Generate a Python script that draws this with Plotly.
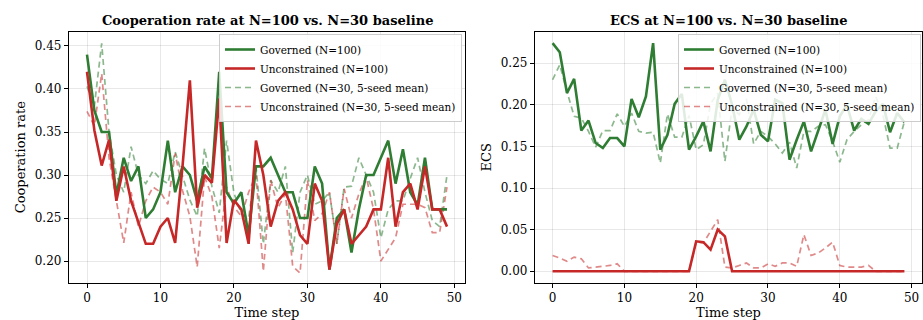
import plotly.graph_objects as go

# ---------------- data ----------------
steps = list(range(50))

coop_gov_100 = [0.44, 0.375, 0.35, 0.35, 0.277, 0.32, 0.293, 0.31, 0.25, 0.26,
                0.28, 0.34, 0.28, 0.31, 0.30, 0.27, 0.31, 0.296, 0.42, 0.28,
                0.267, 0.28, 0.23, 0.31, 0.31, 0.32, 0.30, 0.28, 0.28, 0.25,
                0.25, 0.31, 0.29, 0.19, 0.25, 0.26, 0.21, 0.26, 0.30, 0.30,
                0.32, 0.34, 0.29, 0.33, 0.28, 0.265, 0.32, 0.26, 0.26, 0.26]
coop_unc_100 = [0.42, 0.352, 0.311, 0.341, 0.27, 0.31, 0.27, 0.244, 0.22, 0.22,
                0.24, 0.25, 0.221, 0.31, 0.41, 0.262, 0.30, 0.291, 0.389, 0.221,
                0.271, 0.26, 0.22, 0.34, 0.30, 0.24, 0.27, 0.28, 0.26, 0.23,
                0.22, 0.29, 0.27, 0.19, 0.243, 0.26, 0.22, 0.23, 0.24, 0.26,
                0.26, 0.32, 0.24, 0.28, 0.29, 0.26, 0.31, 0.26, 0.26, 0.24]
coop_gov_30 = [0.403, 0.38, 0.453, 0.35, 0.30, 0.28, 0.333, 0.30, 0.29, 0.305,
               0.295, 0.29, 0.327, 0.298, 0.271, 0.252, 0.331, 0.287, 0.256, 0.34,
               0.279, 0.255, 0.25, 0.31, 0.22, 0.294, 0.28, 0.31, 0.21, 0.28,
               0.30, 0.266, 0.27, 0.28, 0.22, 0.286, 0.287, 0.32, 0.30, 0.28,
               0.227, 0.26, 0.27, 0.27, 0.296, 0.32, 0.28, 0.247, 0.24, 0.30]
coop_unc_30 = [0.374, 0.357, 0.418, 0.32, 0.27, 0.221, 0.28, 0.24, 0.27, 0.286,
               0.28, 0.266, 0.325, 0.282, 0.252, 0.193, 0.298, 0.275, 0.215, 0.286,
               0.263, 0.252, 0.28, 0.30, 0.188, 0.294, 0.262, 0.278, 0.194, 0.186,
               0.294, 0.247, 0.255, 0.28, 0.22, 0.284, 0.25, 0.278, 0.298, 0.26,
               0.20, 0.214, 0.227, 0.266, 0.266, 0.266, 0.262, 0.233, 0.233, 0.286]

ecs_gov_100 = [0.274, 0.263, 0.214, 0.231, 0.169, 0.181, 0.154, 0.148, 0.160, 0.160,
               0.150, 0.207, 0.185, 0.210, 0.274, 0.146, 0.164, 0.201, 0.213, 0.146,
               0.162, 0.180, 0.144, 0.206, 0.23, 0.20, 0.158, 0.174, 0.194, 0.164,
               0.156, 0.206, 0.202, 0.134, 0.158, 0.180, 0.144, 0.168, 0.194, 0.153,
               0.186, 0.200, 0.169, 0.183, 0.177, 0.192, 0.201, 0.167, 0.190, 0.179]
ecs_unc_100 = [0.0, 0.0, 0.0, 0.0, 0.0, 0.0, 0.0, 0.0, 0.0, 0.0,
               0.0, 0.0, 0.0, 0.0, 0.0, 0.0, 0.0, 0.0, 0.0, 0.0,
               0.036, 0.035, 0.026, 0.050, 0.042, 0.0, 0.0, 0.0, 0.0, 0.0,
               0.0, 0.0, 0.0, 0.0, 0.0, 0.0, 0.0, 0.0, 0.0, 0.0,
               0.0, 0.0, 0.0, 0.0, 0.0, 0.0, 0.0, 0.0, 0.0, 0.0]
ecs_gov_30 = [0.230, 0.248, 0.216, 0.186, 0.184, 0.168, 0.149, 0.169, 0.169, 0.189,
              0.174, 0.190, 0.168, 0.166, 0.167, 0.130, 0.189, 0.161, 0.161, 0.187,
              0.146, 0.152, 0.201, 0.214, 0.132, 0.196, 0.188, 0.207, 0.153, 0.168,
              0.162, 0.153, 0.142, 0.155, 0.124, 0.168, 0.168, 0.174, 0.176, 0.156,
              0.131, 0.158, 0.168, 0.176, 0.182, 0.210, 0.188, 0.148, 0.148, 0.180]
ecs_unc_30 = [0.019, 0.016, 0.012, 0.017, 0.015, 0.004, 0.005, 0.006, 0.007, 0.009,
              0.0, 0.0, 0.0, 0.0, 0.0, 0.0, 0.0, 0.0, 0.0, 0.0,
              0.035, 0.034, 0.048, 0.062, 0.005, 0.004, 0.007, 0.010, 0.004, 0.004,
              0.009, 0.006, 0.010, 0.010, 0.006, 0.044, 0.019, 0.022, 0.028, 0.035,
              0.007, 0.005, 0.005, 0.005, 0.007, 0.0, 0.0, 0.0, 0.0, 0.0]

names = ["Governed (N=100)", "Unconstrained (N=100)",
         "Governed (N=30, 5-seed mean)", "Unconstrained (N=30, 5-seed mean)"]
titles = ["Cooperation rate at N=100 vs. N=30 baseline", "ECS at N=100 vs. N=30 baseline"]
y_titles = ["Cooperation rate", "ECS"]
x_title = "Time step"

# ---------------- styles ----------------
GREEN = "#2e7d32"
RED = "#c62828"
GREEN_L = "rgba(46,125,50,0.55)"
RED_L = "rgba(198,40,40,0.55)"
FONT = "DejaVu Serif"

styles = [dict(color=GREEN, width=2.6, dash="solid"),
          dict(color=RED, width=2.6, dash="solid"),
          dict(color=GREEN_L, width=1.7, dash="6px,4px"),
          dict(color=RED_L, width=1.7, dash="6px,4px")]

fig = go.Figure()
left_series = [coop_gov_100, coop_unc_100, coop_gov_30, coop_unc_30]
right_series = [ecs_gov_100, ecs_unc_100, ecs_gov_30, ecs_unc_30]
order = [2, 3, 0, 1]  # draw dashed first, solid on top
for i in order:
    fig.add_trace(go.Scatter(x=steps, y=left_series[i], mode="lines", name=names[i],
                             line=styles[i], xaxis="x", yaxis="y", legend="legend",
                             legendrank=i + 1))
for i in order:
    fig.add_trace(go.Scatter(x=steps, y=right_series[i], mode="lines", name=names[i],
                             line=styles[i], xaxis="x2", yaxis="y2", legend="legend2",
                             legendrank=i + 1))

W, H = 923, 320
lx0, lx1 = 69 / W, 465 / W
rx0, rx1 = 535 / W, 922 / W
y0, y1 = (H - 282.7) / H, (H - 31.7) / H

common = dict(showline=True, linecolor="black", linewidth=1.3, mirror=True,
              ticks="outside", ticklen=4, tickwidth=1, tickcolor="black",
              showgrid=True, gridcolor="rgba(0,0,0,0.09)", gridwidth=1,
              zeroline=False, automargin=False,
              tickfont=dict(family=FONT, size=12, color="black"))

xticks = [0, 10, 20, 30, 40, 50]
legend_common = dict(y=1 - 34 / H, yanchor="top",
                     bgcolor="rgba(255,255,255,0.85)", bordercolor="#cccccc", borderwidth=1,
                     font=dict(family=FONT, size=10.5), tracegroupgap=0, itemwidth=30)
fig.update_layout(
    width=W, height=H,
    margin=dict(l=0, r=0, t=0, b=0),
    paper_bgcolor="white", plot_bgcolor="white",
    font=dict(family=FONT, color="black"),
    xaxis=dict(domain=[lx0, lx1], anchor="y", range=[-2.45, 51.45], tickvals=xticks,
               title=dict(text=x_title, font=dict(family=FONT, size=13), standoff=4), **common),
    yaxis=dict(domain=[y0, y1], anchor="x", range=[0.1748, 0.4666],
               tickvals=[0.20, 0.25, 0.30, 0.35, 0.40, 0.45], tickformat=".2f",
               title=dict(text=y_titles[0], font=dict(family=FONT, size=13), standoff=6), **common),
    xaxis2=dict(domain=[rx0, rx1], anchor="y2", range=[-2.45, 51.45], tickvals=xticks,
                title=dict(text=x_title, font=dict(family=FONT, size=13), standoff=4), **common),
    yaxis2=dict(domain=[y0, y1], anchor="x2", range=[-0.0137, 0.2877],
                tickvals=[0.00, 0.05, 0.10, 0.15, 0.20, 0.25], tickformat=".2f",
                title=dict(text=y_titles[1], font=dict(family=FONT, size=13), standoff=6), **common),
    legend=dict(x=462 / W, xanchor="right", **legend_common),
    legend2=dict(x=921 / W, xanchor="right", **legend_common),
)

for k, (a, b) in enumerate([(lx0, lx1), (rx0, rx1)]):
    fig.add_annotation(text=titles[k], x=(a + b) / 2, y=1 - 20 / H, xref="paper", yref="paper",
                       xanchor="center", yanchor="middle", showarrow=False,
                       font=dict(family=FONT, size=13, weight="bold", color="black"))

fig.write_html("out.html")
